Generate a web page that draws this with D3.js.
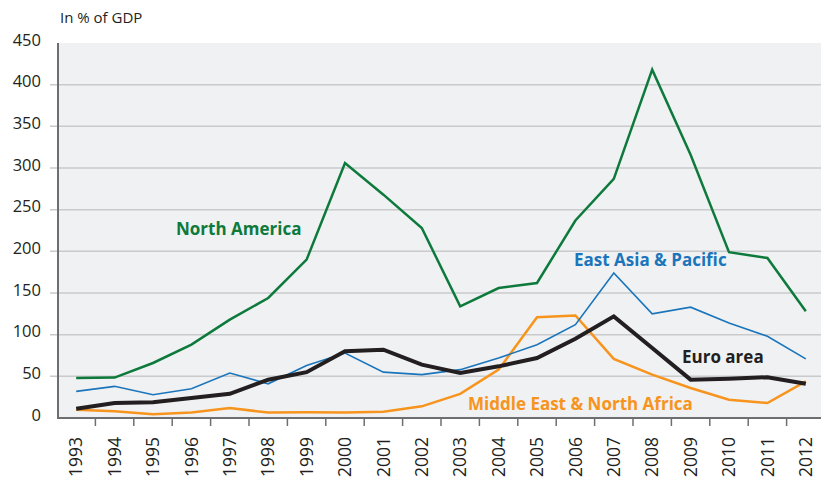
<!DOCTYPE html>
<html>
<head>
<meta charset="utf-8">
<script src="https://cdn.jsdelivr.net/npm/d3@7"></script>
<style>
  body { margin: 0; background: #fff; }
  svg text { font-family: "Open Sans", "Noto Sans", sans-serif; }
</style>
</head>
<body>
<svg id="chart"></svg>
<script>
// Data
const years = d3.range(1993, 2013).map(String);
const northAmerica = [48, 48.5, 66, 88, 118, 144, 190, 306, 268, 228, 134, 156, 162, 237, 287, 418, 316, 199, 192, 128];
const eastAsia = [32, 38, 28, 35, 54, 41, 63, 78, 55, 52, 58, 72, 88, 112, 174, 125, 133, 114, 98, 71];
const euroArea = [11, 18, 19, 24, 29, 46, 55, 80, 82, 64, 54, 62, 72, 95, 122, 84, 46, 47, 49, 41];
const mena = [10, 8, 4.5, 6.5, 12, 6.5, 7, 6.5, 7.5, 14, 29, 58, 121, 123, 71, 52, 36, 22, 18, 44];
const yTicks = [0, 50, 100, 150, 200, 250, 300, 350, 400, 450];

const width = 821, height = 479;
const plotLeft = 57, plotTop = 43, plotBottom = 418;
const step = 38.4;

const svg = d3.select("#chart").attr("width", width).attr("height", height);

const x = d3.scaleBand().domain(years).range([plotLeft, plotLeft + step * years.length]).padding(0);
const y = d3.scaleLinear().domain([0, 450]).range([plotBottom, plotTop]);

// Plot background
svg.append("rect")
  .attr("x", plotLeft).attr("y", plotTop)
  .attr("width", width - plotLeft).attr("height", plotBottom - plotTop)
  .attr("fill", "#f0f1f3");

// Gridlines with small outer ticks
svg.append("g").selectAll("line")
  .data(yTicks.filter(d => d > 0 && d < 450))
  .join("line")
  .attr("x1", 50).attr("x2", width)
  .attr("y1", d => y(d)).attr("y2", d => y(d))
  .attr("stroke", "#c9cacc").attr("stroke-width", 1.5);

// Y labels
svg.append("g").selectAll("text")
  .data(yTicks)
  .join("text")
  .attr("x", 41).attr("y", d => y(d) - 3)
  .attr("dy", "0.35em")
  .attr("text-anchor", "end")
  .attr("font-size", 16.5)
  .attr("fill", "#231f20")
  .text(d => d);

// Unit label
svg.append("text")
  .attr("x", 60).attr("y", 23)
  .attr("font-size", 15)
  .attr("fill", "#231f20")
  .text("In % of GDP");

// X axis ticks at band boundaries
svg.append("g").selectAll("line")
  .data(years.slice(1))
  .join("line")
  .attr("x1", d => x(d)).attr("x2", d => x(d))
  .attr("y1", plotBottom).attr("y2", plotBottom + 8)
  .attr("stroke", "#6d6e71").attr("stroke-width", 1.5);

// Year labels, rotated
svg.append("g").selectAll("text")
  .data(years)
  .join("text")
  .attr("transform", d => `translate(${x(d) + x.bandwidth() / 2},${plotBottom + 19}) rotate(-90)`)
  .attr("dy", "0.35em")
  .attr("text-anchor", "end")
  .attr("font-size", 17.5)
  .attr("fill", "#231f20")
  .text(d => d);

// Axis lines
svg.append("line")
  .attr("x1", plotLeft).attr("x2", width)
  .attr("y1", plotBottom).attr("y2", plotBottom)
  .attr("stroke", "#6d6e71").attr("stroke-width", 2);
svg.append("line")
  .attr("x1", plotLeft + 1).attr("x2", plotLeft + 1)
  .attr("y1", plotTop).attr("y2", plotBottom + 1)
  .attr("stroke", "#6d6e71").attr("stroke-width", 2);

// Series lines
const line = d3.line()
  .x((d, i) => x(years[i]) + x.bandwidth() / 2)
  .y(d => y(d));

const series = [
  { values: mena, color: "#f7941d", w: 2.5 },
  { values: eastAsia, color: "#1a75bb", w: 1.6 },
  { values: northAmerica, color: "#0d7a3c", w: 2.5 },
  { values: euroArea, color: "#231f20", w: 4 }
];

svg.append("g").selectAll("path")
  .data(series)
  .join("path")
  .attr("d", d => line(d.values))
  .attr("fill", "none")
  .attr("stroke", d => d.color)
  .attr("stroke-width", d => d.w)
  .attr("stroke-linejoin", "miter");

// Series labels
const labels = [
  { text: "North America", x: 176, y: 235, color: "#0d7a3c" },
  { text: "East Asia & Pacific", x: 574, y: 266, color: "#1a75bb" },
  { text: "Euro area", x: 682, y: 363, color: "#231f20" },
  { text: "Middle East & North Africa", x: 468, y: 410, color: "#f7941d" }
];

svg.append("g").selectAll("text")
  .data(labels)
  .join("text")
  .attr("x", d => d.x).attr("y", d => d.y)
  .attr("font-size", 17)
  .attr("font-weight", "bold")
  .attr("fill", d => d.color)
  .text(d => d.text);
</script>
</body>
</html>
